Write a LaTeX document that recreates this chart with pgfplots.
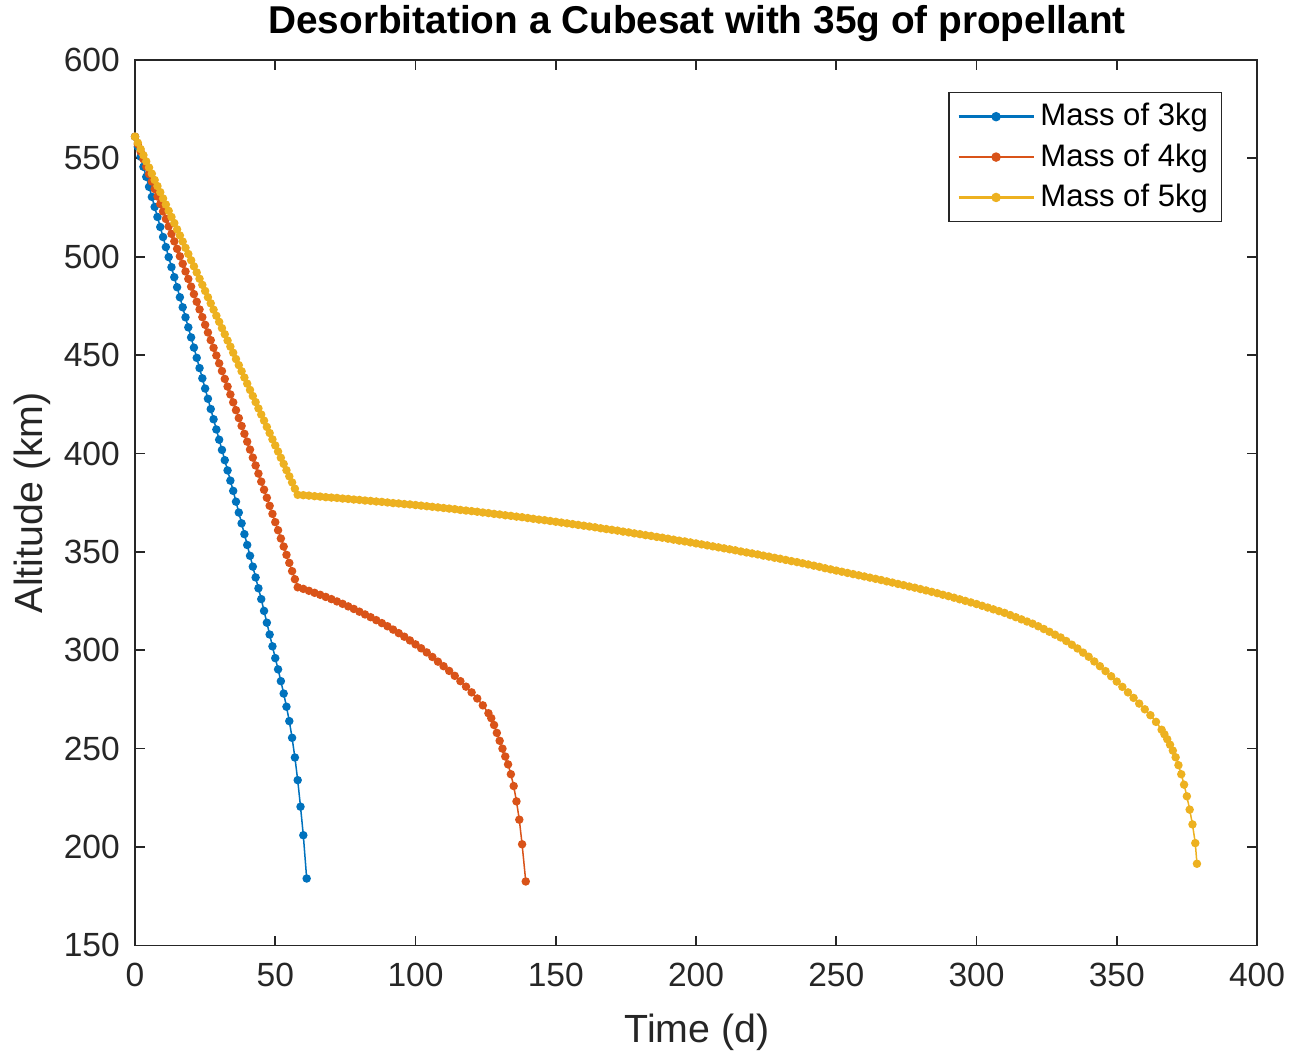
\documentclass[border=0pt]{standalone}
\usepackage{pgfplots}
\pgfplotsset{compat=1.18}
\usepackage{fontspec}
\setmainfont{Liberation Sans}
\definecolor{mblue}{rgb}{0,0.447,0.741}
\definecolor{mred}{rgb}{0.85,0.325,0.098}
\definecolor{myellow}{rgb}{0.929,0.694,0.125}
\definecolor{axgray}{rgb}{0.15,0.15,0.15}
\begin{document}
\begin{tikzpicture}
\path[use as bounding box] (-49.1pt,-40.4pt) rectangle (420pt,343.8pt);
\begin{axis}[
  at={(0pt,0pt)}, anchor=south west,
  scale only axis,
  width=408pt, height=322pt,
  xmin=0, xmax=400, ymin=150, ymax=600,
  xtick={0,50,...,400}, ytick={150,200,...,600},
  tick align=inside,
  major tick length=3.5pt,
  axis line style={axgray, line width=0.6pt},
  tick style={axgray, line width=0.6pt},
  every tick label/.append style={font=\fontsize{12.2}{14}\selectfont, text=axgray},
  xticklabel style={yshift=-3pt},
  yticklabel style={xshift=-2pt},
  /pgf/number format/assume math mode=true,
  /pgf/number format/1000 sep={},
  xlabel={Time (d)}, ylabel={Altitude (km)},
  xlabel style={font=\fontsize{14.3}{16}\selectfont, text=axgray, at={(axis description cs:0.501,-0.0982)}, anchor=center},
  ylabel style={font=\fontsize{14.3}{16}\selectfont, text=axgray, at={(axis description cs:-0.0919,0.5)}, anchor=center},
  legend style={at={(0.969,0.964)}, anchor=north east, draw=axgray,
    font=\fontsize{11.3}{13}\selectfont, row sep=1pt, inner xsep=3pt, inner ysep=2pt},
  legend cell align=left,
  legend image code/.code={
    \draw[line width=0.9pt, mark repeat=2, mark phase=2] plot coordinates {(0cm,0cm) (0.48cm,0cm) (0.96cm,0cm)};},
  every axis plot/.append style={line width=0.55pt, mark=*, mark size=1.25pt},
]
\addplot[mblue, mark options={fill=mblue, draw=mblue}] coordinates {
(0,561.0)(1,555.9)(2,550.8)(3,545.7)(4,540.6)(5,535.5)(6,530.4)(7,525.3)(8,520.2)(9,515.1)
(10,510.0)(11,504.9)(12,499.8)(13,494.7)(14,489.6)(15,484.5)(16,479.4)(17,474.3)(18,469.2)(19,464.1)
(20,459.0)(21,453.8)(22,448.6)(23,443.4)(24,438.2)(25,433.0)(26,427.8)(27,422.6)(28,417.4)(29,412.2)
(30,407.0)(31,401.8)(32,396.6)(33,391.4)(34,386.2)(35,381.0)(36,375.5)(37,370.0)(38,364.5)(39,359.0)
(40,353.5)(41,348.0)(42,342.5)(43,337.0)(44,331.5)(45,326.0)(46,320.0)(47,314.0)(48,308.0)(49,302.0)
(50,296.0)(51,290.3)(52,284.3)(53,278.0)(54,271.3)(55,264.0)(56,255.5)(57,245.5)(58,234.0)(59,220.5)
(60,206.0)(61.2,184.0)
};
\addlegendentry{Mass of 3kg}
\addplot[mred, mark options={fill=mred, draw=mred}] coordinates {
(0,561.0)(1,557.2)(2,553.4)(3,549.6)(4,545.8)(5,542.0)(6,538.2)(7,534.4)(8,530.6)(9,526.8)
(10,523.0)(11,519.2)(12,515.4)(13,511.6)(14,507.8)(15,504.0)(16,500.2)(17,496.4)(18,492.5)(19,488.7)
(20,484.8)(21,481.0)(22,477.1)(23,473.2)(24,469.3)(25,465.4)(26,461.5)(27,457.6)(28,453.7)(29,449.8)
(30,445.8)(31,441.9)(32,437.9)(33,434.0)(34,430.0)(35,426.0)(36,422.0)(37,418.0)(38,414.0)(39,410.0)
(40,406.0)(41,402.0)(42,397.9)(43,393.9)(44,389.8)(45,385.7)(46,381.6)(47,377.5)(48,373.4)(49,369.3)
(50,365.1)(51,361.0)(52,356.8)(53,352.7)(54,348.5)(55,344.4)(56,340.2)(57,336.1)(58,332.0)
(60,331.2)(62,330.2)(64,329.2)(66,328.2)(68,327.1)(70,326.0)(72,324.8)(74,323.6)(76,322.3)(78,321.0)
(80,319.6)(82,318.2)(84,316.8)(86,315.3)(88,313.8)(90,312.2)(92,310.5)(94,308.7)(96,306.9)(98,305.0)
(100,303.0)(102,301.0)(104,298.9)(106,296.6)(108,294.2)(110,291.9)(112,289.5)(114,287.0)(116,284.3)(118,281.5)
(120,278.6)(122,275.5)(124,272.0)(126,268.0)(127,265.5)(128,262.0)(129,258.0)(130,254.0)(131,250.0)(132,246.0)
(133,242.0)(134,237.0)(135,231.0)(136,223.2)(137,213.9)(138,201.4)(139.3,182.5)
};
\addlegendentry{Mass of 4kg}
\addplot[myellow, mark options={fill=myellow, draw=myellow}] coordinates {
(0,561.0)(1,557.9)(2,554.7)(3,551.6)(4,548.4)(5,545.3)(6,542.2)(7,539.0)(8,535.9)(9,532.8)
(10,529.6)(11,526.5)(12,523.3)(13,520.2)(14,517.1)(15,513.9)(16,510.8)(17,507.7)(18,504.5)(19,501.4)
(20,498.2)(21,495.1)(22,492.0)(23,488.8)(24,485.7)(25,482.6)(26,479.4)(27,476.3)(28,473.1)(29,470.0)
(30,466.9)(31,463.7)(32,460.6)(33,457.4)(34,454.3)(35,451.2)(36,448.0)(37,444.9)(38,441.8)(39,438.6)
(40,435.5)(41,432.3)(42,429.2)(43,426.1)(44,422.9)(45,419.8)(46,416.7)(47,413.5)(48,410.4)(49,407.2)
(50,404.1)(51,401.0)(52,397.8)(53,394.7)(54,391.5)(55,388.4)(56,385.3)(57,382.1)(58,379.0)
(60,378.8)(62,378.6)(64,378.3)(66,378.1)(68,377.8)(70,377.6)(72,377.4)(74,377.1)(76,376.9)(78,376.6)
(80,376.4)(82,376.1)(84,375.9)(86,375.6)(88,375.4)(90,375.1)(92,374.8)(94,374.6)(96,374.3)(98,374.1)
(100,373.8)(102,373.5)(104,373.2)(106,372.9)(108,372.6)(110,372.3)(112,372.0)(114,371.7)(116,371.3)(118,371.0)
(120,370.7)(122,370.4)(124,370.0)(126,369.7)(128,369.3)(130,369.0)(132,368.6)(134,368.3)(136,367.9)(138,367.6)
(140,367.2)(142,366.8)(144,366.4)(146,366.1)(148,365.7)(150,365.3)(152,364.9)(154,364.5)(156,364.1)(158,363.7)
(160,363.3)(162,362.9)(164,362.5)(166,362.0)(168,361.6)(170,361.2)(172,360.8)(174,360.3)(176,359.9)(178,359.4)
(180,359.0)(182,358.5)(184,358.1)(186,357.6)(188,357.2)(190,356.7)(192,356.2)(194,355.7)(196,355.3)(198,354.8)
(200,354.3)(202,353.8)(204,353.3)(206,352.8)(208,352.3)(210,351.8)(212,351.3)(214,350.8)(216,350.2)(218,349.7)
(220,349.2)(222,348.7)(224,348.1)(226,347.6)(228,347.0)(230,346.5)(232,345.9)(234,345.3)(236,344.8)(238,344.2)
(240,343.6)(242,343.0)(244,342.4)(246,341.7)(248,341.1)(250,340.5)(252,339.9)(254,339.3)(256,338.7)(258,338.1)
(260,337.5)(262,336.9)(264,336.3)(266,335.7)(268,335.0)(270,334.4)(272,333.7)(274,333.1)(276,332.4)(278,331.8)
(280,331.1)(282,330.4)(284,329.7)(286,329.0)(288,328.2)(290,327.5)(292,326.7)(294,325.9)(296,325.1)(298,324.3)
(300,323.5)(302,322.6)(304,321.7)(306,320.8)(308,319.9)(310,319.0)(312,317.9)(314,316.8)(316,315.7)(318,314.6)
(320,313.5)(322,312.2)(324,310.8)(326,309.4)(328,307.9)(330,306.5)(332,304.7)(334,302.8)(336,300.9)(338,298.8)
(340,296.7)(342,294.3)(344,291.9)(346,289.4)(348,286.8)(350,284.1)(352,281.4)(354,278.6)(356,275.8)(358,272.9)
(360,270.0)(362,267.0)(364,263.6)(366,259.6)(367,257.3)(368,254.8)(369,252.0)(370,249.0)(371,245.6)(372,241.6)
(373,237.0)(374,231.7)(375,225.8)(376,219.0)(377,211.5)(378,202.0)(378.6,191.5)
};
\addlegendentry{Mass of 5kg}
\end{axis}
\node[font=\fontsize{14.1}{16}\selectfont\bfseries, anchor=center] at (204.4pt,335.1pt) {Desorbitation a Cubesat with 35g of propellant};
\end{tikzpicture}
\end{document}
